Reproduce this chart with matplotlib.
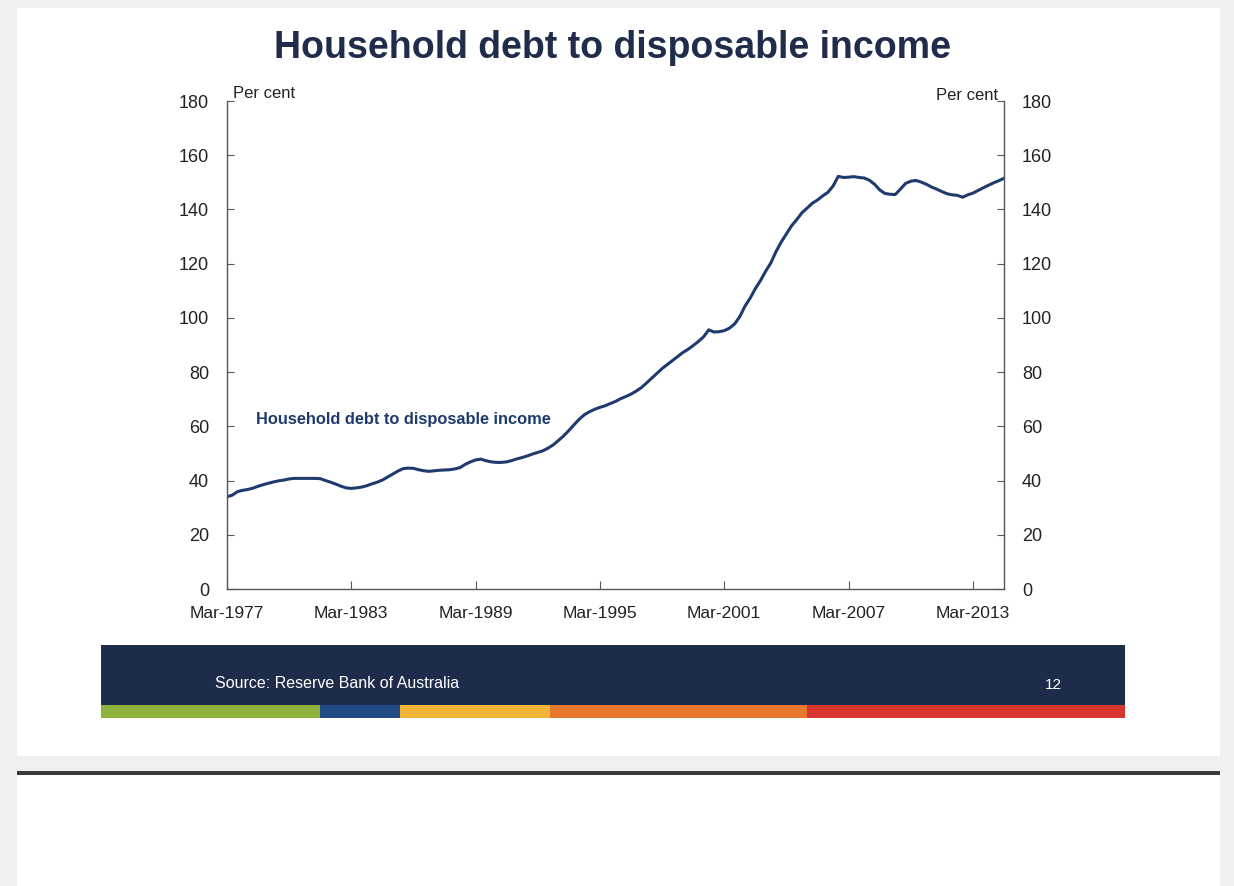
import numpy as np
import matplotlib
matplotlib.use("Agg")
import matplotlib.pyplot as plt
import matplotlib.dates as mdates
from matplotlib.patches import Rectangle
import pandas as pd

# Household debt to disposable income, quarterly, Mar-1977 to Sep-2014 (per cent)
debt_ratio = [
    34.0, 34.6, 35.9, 36.4,   # 1977
    36.7, 37.2, 37.9, 38.5,   # 1978
    39.0, 39.5, 39.9, 40.2,   # 1979
    40.6, 40.8, 40.8, 40.8,   # 1980
    40.8, 40.8, 40.7, 40.0,   # 1981
    39.4, 38.7, 37.9, 37.3,   # 1982
    37.1, 37.3, 37.6, 38.1,   # 1983
    38.8, 39.4, 40.2, 41.3,   # 1984
    42.4, 43.5, 44.4, 44.6,   # 1985
    44.5, 44.0, 43.6, 43.4,   # 1986
    43.6, 43.8, 43.9, 44.0,   # 1987
    44.3, 44.8, 46.0, 46.9,   # 1988
    47.6, 47.9, 47.3, 46.9,   # 1989
    46.7, 46.7, 46.9, 47.4,   # 1990
    48.0, 48.5, 49.1, 49.8,   # 1991
    50.4, 51.0, 52.0, 53.2,   # 1992
    54.8, 56.5, 58.5, 60.6,   # 1993
    62.6, 64.3, 65.4, 66.3,   # 1994
    67.0, 67.6, 68.4, 69.2,   # 1995
    70.2, 71.0, 71.9, 73.0,   # 1996
    74.3, 76.0, 77.8, 79.6,   # 1997
    81.3, 82.8, 84.3, 85.8,   # 1998
    87.2, 88.4, 89.8, 91.3,   # 1999
    93.0, 95.6, 94.8, 94.9,   # 2000
    95.3, 96.2, 97.8, 100.5,  # 2001
    104.3, 107.3, 110.8, 113.8,  # 2002
    117.2, 120.3, 124.5, 128.0,  # 2003
    131.0, 134.0, 136.3, 138.8,  # 2004
    140.5, 142.3, 143.5, 145.0,  # 2005
    146.3, 148.6, 152.2, 151.8,  # 2006
    151.9, 152.1, 151.8, 151.6,  # 2007
    150.8, 149.3, 147.2, 145.9,  # 2008
    145.6, 145.5, 147.5, 149.6,  # 2009
    150.4, 150.7, 150.1, 149.3,  # 2010
    148.3, 147.5, 146.6, 145.8,  # 2011
    145.4, 145.2, 144.5, 145.4,  # 2012
    146.0, 147.0, 148.0, 148.9,  # 2013
    149.8, 150.6, 151.5,         # 2014
]
dates = pd.date_range("1977-03-01", periods=len(debt_ratio), freq="QS-MAR")
tick_years = [1977, 1983, 1989, 1995, 2001, 2007, 2013]
y_ticks = [0, 20, 40, 60, 80, 100, 120, 140, 160, 180]

W, H = 1234, 886
navy = "#1f2d4a"
line_col = "#1f3b6e"
sans = ["Liberation Sans", "DejaVu Sans"]

fig = plt.figure(figsize=(W / 100, H / 100), dpi=100)
fig.patch.set_facecolor("#f0f0f3")


def rect(x0, y0, x1, y1, color, z=0):
    # pixel box (top-left origin) -> figure fraction
    fig.add_artist(Rectangle((x0 / W, 1 - y1 / H), (x1 - x0) / W, (y1 - y0) / H,
                             transform=fig.transFigure, facecolor=color,
                             edgecolor="none", zorder=z))


# slide pages
rect(17, 8, 1220, 756, "white")
rect(17, 772, 1220, 886, "white")
rect(17, 771, 1220, 775, "#3a3a3a")

# footer banner and colour stripes
rect(101, 645, 1125, 705, "#1e2c4b", 1)
rect(101, 705, 320, 718, "#8db33c", 1)
rect(320, 705, 400, 718, "#214a86", 1)
rect(400, 705, 550, 718, "#f1b437", 1)
rect(550, 705, 807, 718, "#e7792e", 1)
rect(807, 705, 1125, 718, "#d8352f", 1)
fig.text(215 / W, 1 - 683 / H, "Source: Reserve Bank of Australia", color="white",
         fontsize=11.5, family=sans, va="center", zorder=3)
fig.text(1053 / W, 1 - 685 / H, "12", color="white", fontsize=11,
         family=sans, ha="center", va="center", zorder=3)

fig.text(613 / W, 1 - 48 / H, "Household debt to disposable income", color=navy,
         fontsize=27, fontweight="bold", family=sans, ha="center", va="center")

ax = fig.add_axes([227 / W, 1 - 589 / H, (1004 - 227) / W, (589 - 101) / H])
ax.set_facecolor("none")
ax.plot(dates, debt_ratio, color=line_col, lw=2.2, solid_capstyle="round")

ax.set_xlim(dates[0], dates[-1])
ax.set_ylim(0, 180)
ax.set_yticks(y_ticks)
ax.set_xticks([pd.Timestamp(f"{y}-03-01") for y in tick_years])
ax.xaxis.set_major_formatter(mdates.DateFormatter("%b-%Y"))

for s in ["left", "right", "bottom"]:
    ax.spines[s].set_color("#555555")
    ax.spines[s].set_linewidth(1.0)
ax.spines["top"].set_visible(False)

ax.tick_params(axis="y", direction="in", left=True, right=True, labelleft=True,
               labelright=True, length=5, width=0.8, color="#555555",
               labelsize=13, pad=13, labelcolor="#222222")
ax.tick_params(axis="x", direction="in", length=6, width=0.8, color="#555555",
               labelsize=12.5, pad=12, labelcolor="#222222")
for lab in ax.get_xticklabels() + ax.get_yticklabels():
    lab.set_family(sans)
for t in ax.yaxis.get_major_ticks():
    t.label2.set_family(sans)

ax.text(0.008, 1.0, "Per cent", transform=ax.transAxes, ha="left", va="bottom",
        fontsize=12, family=sans, color="#222222")
ax.text(0.992, 0.995, "Per cent", transform=ax.transAxes, ha="right", va="bottom",
        fontsize=12, family=sans, color="#222222")

ax.text(pd.Timestamp("1978-08-01"), 62.5, "Household debt to disposable income",
        color=line_col, fontsize=11.8, fontweight="bold", family=sans,
        ha="left", va="center")

fig.savefig("out.png", dpi=100, facecolor=fig.get_facecolor())
